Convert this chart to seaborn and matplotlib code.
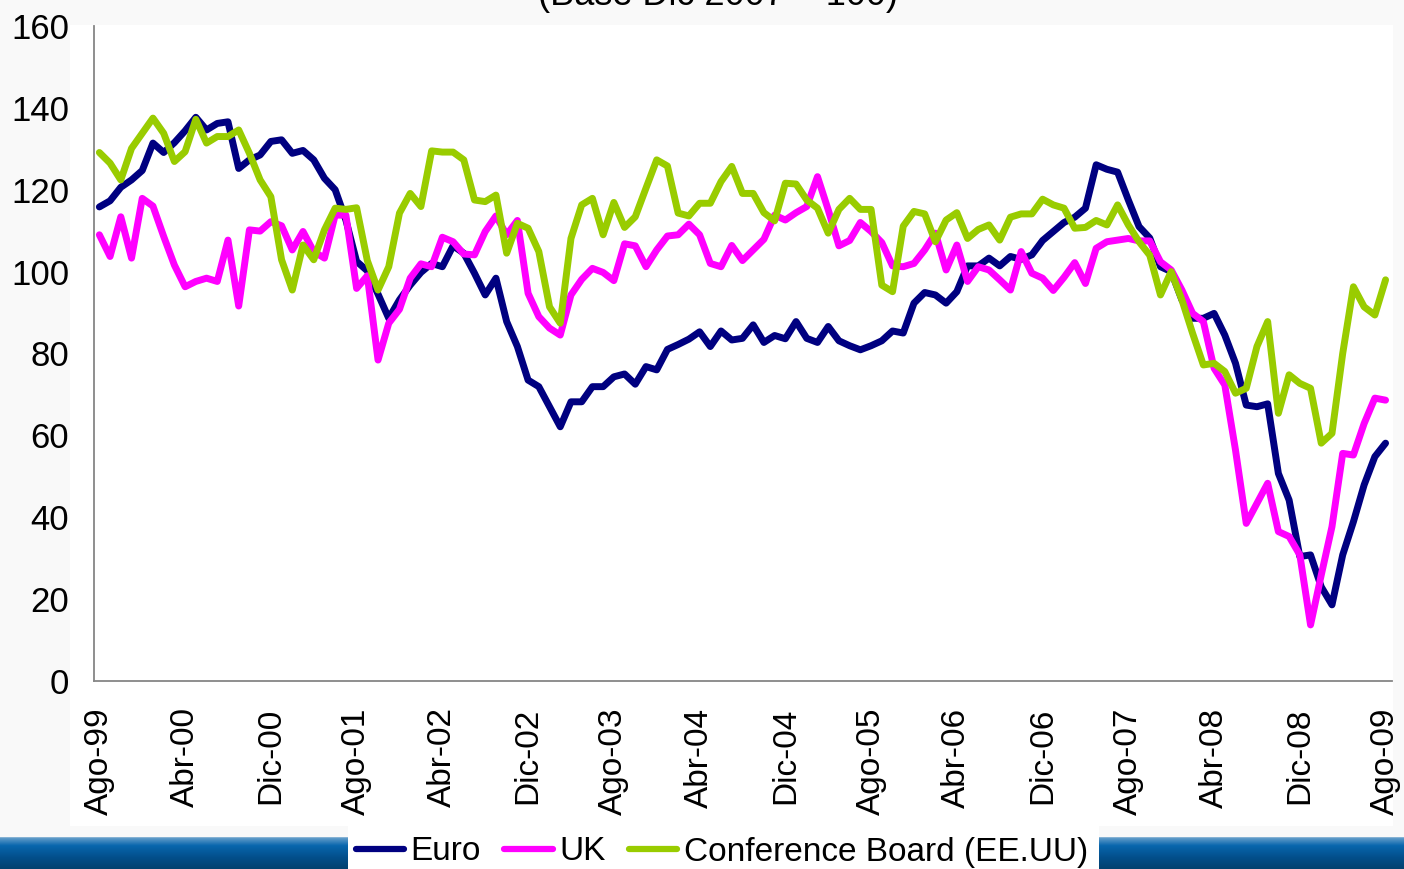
import matplotlib

matplotlib.use("Agg")
import matplotlib.pyplot as plt
import numpy as np
import pandas as pd
import seaborn as sns
from matplotlib.colors import LinearSegmentedColormap
from matplotlib.lines import Line2D
from matplotlib.patches import Rectangle

# monthly index values, Ago-99 .. Ago-09 (Base Dic 2007 = 100)
euro = [
    115.8, 117.3, 120.6, 122.4, 124.7, 131.4, 129.1, 131.5, 134.4, 137.7,
    134.6, 136.2, 136.6, 125.2, 127.3, 128.5, 131.8, 132.2, 128.9, 129.6,
    127.3, 122.8, 120.0, 112.6, 102.5, 100.2, 94.5, 88.6, 93.1, 96.7,
    99.8, 102.0, 101.2, 106.3, 104.5, 99.6, 94.3, 98.4, 87.8, 81.7,
    73.5, 71.9, 67.0, 62.1, 68.2, 68.2, 71.9, 71.9, 74.3, 75.0,
    72.5, 76.8, 76.0, 81.0, 82.2, 83.5, 85.3, 81.7, 85.5, 83.3,
    83.7, 87.0, 82.7, 84.4, 83.6, 87.8, 83.7, 82.7, 86.6, 83.1,
    81.9, 80.9, 81.9, 83.1, 85.5, 85.0, 92.3, 94.9, 94.3, 92.3,
    95.1, 101.4, 101.4, 103.3, 101.4, 103.7, 103.0, 104.1, 107.6, 109.8,
    112.0, 113.3, 115.5, 126.1, 125.0, 124.3, 117.5, 111.0, 108.2, 101.2,
    100.0, 93.1, 88.6, 88.6, 89.8, 84.5, 77.6, 67.4, 67.0, 67.7,
    50.7, 44.2, 30.4, 30.8, 23.0, 18.6, 30.8, 38.9, 47.9, 54.8,
    58.1,
]
uk = [
    109.0, 103.7, 113.4, 103.3, 117.9, 116.0, 108.6, 101.6, 96.3, 97.6,
    98.4, 97.6, 107.7, 91.6, 110.2, 109.9, 112.2, 111.2, 105.3, 109.8,
    104.9, 103.3, 113.8, 113.8, 95.9, 99.0, 78.4, 87.4, 90.8, 98.4,
    101.9, 101.2, 108.4, 107.3, 104.3, 104.1, 109.8, 113.6, 109.0, 112.5,
    94.7, 89.0, 86.2, 84.5, 94.3, 98.1, 100.8, 99.8, 97.8, 106.8,
    106.3, 101.2, 105.3, 108.7, 109.0, 111.6, 109.0, 102.0, 101.2, 106.4,
    102.7, 105.3, 107.9, 113.8, 112.6, 114.4, 115.9, 123.2, 115.1, 106.3,
    107.6, 112.0, 109.8, 107.1, 101.4, 101.2, 102.0, 105.3, 109.4, 100.4,
    106.5, 97.6, 101.2, 100.4, 98.0, 95.5, 104.9, 99.6, 98.4, 95.4,
    98.6, 102.2, 97.1, 105.7, 107.3, 107.7, 108.1, 107.5, 107.5, 102.4,
    100.4, 95.5, 89.8, 87.8, 76.4, 72.3, 56.4, 38.5, 43.4, 48.3,
    36.5, 35.3, 30.8, 13.7, 25.9, 37.7, 55.6, 55.2, 62.9, 69.1,
    68.6,
]
conference_board = [
    129.1, 126.5, 122.4, 130.1, 133.8, 137.5, 133.8, 126.9, 129.3, 137.2,
    131.4, 133.0, 133.0, 134.6, 128.9, 122.4, 118.3, 102.9, 95.5, 106.5,
    102.9, 110.2, 115.5, 115.2, 115.6, 102.7, 95.5, 101.2, 114.3, 119.1,
    115.9, 129.5, 129.2, 129.2, 127.3, 117.5, 117.1, 118.7, 104.5, 111.8,
    110.6, 104.9, 91.4, 87.4, 108.1, 116.3, 117.9, 109.0, 116.9, 110.8,
    113.4, 120.4, 127.3, 125.8, 114.3, 113.6, 116.7, 116.7, 122.0, 125.7,
    119.1, 119.1, 114.4, 112.4, 121.6, 121.4, 117.5, 115.5, 109.4, 115.2,
    117.9, 115.2, 115.2, 96.7, 95.1, 111.1, 114.7, 114.1, 107.3, 112.6,
    114.4, 108.1, 110.3, 111.4, 107.7, 113.3, 114.1, 114.1, 117.7, 116.3,
    115.5, 110.6, 110.8, 112.5, 111.4, 116.3, 111.4, 107.3, 104.0, 94.3,
    100.0, 93.1, 84.9, 77.2, 77.6, 75.6, 70.3, 71.5, 81.7, 87.8,
    65.4, 74.8, 72.7, 71.5, 58.1, 60.5, 80.0, 96.3, 91.4, 89.4,
    98.0,
]
tick_labels = [
    "Ago-99", "Abr-00", "Dic-00", "Ago-01", "Abr-02", "Dic-02", "Ago-03", "Abr-04",
    "Dic-04", "Ago-05", "Abr-06", "Dic-06", "Ago-07", "Abr-08", "Dic-08", "Ago-09",
]
series_names = ["Euro", "UK", "Conference Board (EE.UU)"]
series_colors = ["#000080", "#FF00FF", "#99CC00"]
title = "(Base Dic 2007 = 100)"

W, H = 1404, 869


def px_rect(x0, y0, x1, y1):
    """pixel box (top-left origin) -> figure-fraction [left, bottom, width, height]"""
    return [x0 / W, 1 - y1 / H, (x1 - x0) / W, (y1 - y0) / H]


sns.set_style("white")
plt.rcParams["font.family"] = ["Liberation Sans", "DejaVu Sans"]
plt.rcParams.update({"text.color": "black", "xtick.color": "black", "ytick.color": "black"})

months = np.arange(len(euro))
df = pd.DataFrame(
    {
        "mes": np.tile(months, 3),
        "indice": euro + uk + conference_board,
        "serie": np.repeat(series_names, len(months)),
    }
)

fig = plt.figure(figsize=(W / 100, H / 100), dpi=100, facecolor="#f9f9f9")

# white chart area behind everything else
l, b, w, h = px_rect(70, 25, 1393, 826)
fig.patches.append(
    Rectangle((l, b), w, h, transform=fig.transFigure, facecolor="white", edgecolor="none", zorder=-10)
)

ax = fig.add_axes(px_rect(94, 26, 1392, 681))
ax.set_facecolor("none")
sns.lineplot(
    data=df, x="mes", y="indice", hue="serie", hue_order=series_names,
    palette=series_colors, linewidth=5, estimator=None, sort=False, legend=False, ax=ax,
)
for line in ax.lines:
    line.set_solid_joinstyle("round")
    line.set_solid_capstyle("round")

ax.set_xlim(-0.5, 120.6)
ax.set_ylim(0, 160)
ax.set_yticks(np.arange(0, 161, 20))
ax.set_xlabel("")
ax.set_ylabel("")
for side in ("top", "right"):
    ax.spines[side].set_visible(False)
for side in ("left", "bottom"):
    ax.spines[side].set_color("#868686")
    ax.spines[side].set_linewidth(1.3)

ax.tick_params(axis="y", direction="out", length=6, width=1.3, color="#868686",
               labelsize=25, labelcolor="black", pad=12)
# tick marks sit on category boundaries, labels on the months
tick_pos = np.arange(0, len(euro), 8)
ax.set_xticks(tick_pos - 0.5)
ax.set_xticklabels([])
ax.tick_params(axis="x", which="major", direction="out", length=6, width=1.3, color="#868686")
ax.set_xticks(tick_pos, minor=True)
ax.set_xticklabels(tick_labels, minor=True, rotation=90, fontsize=24, color="black")
ax.tick_params(axis="x", which="minor", length=0, pad=19)

fig.text(718 / W, 1 - 5 / H, title, ha="center", va="baseline", fontsize=26)

# blue footer band with gradient
band = fig.add_axes(px_rect(0, 837, W, H))
band_cmap = LinearSegmentedColormap.from_list("band", ["#8fb8d8", "#0866ad", "#034f8c", "#02416f"])
grad = np.concatenate([[0.0], np.linspace(0.12, 1.0, 40)]).reshape(-1, 1)
band.imshow(grad, aspect="auto", cmap=band_cmap, extent=[0, 1, 0, 1])
band.set_axis_off()

# white legend box on the band
l, b, w, h = px_rect(348, 825, 1099, H)
fig.patches.append(
    Rectangle((l, b), w, h, transform=fig.transFigure, facecolor="white", edgecolor="none", zorder=5)
)

handles = [Line2D([0], [0], color=c, linewidth=4.5, solid_capstyle="round") for c in series_colors]
leg = fig.legend(
    handles, series_names, loc="center", bbox_to_anchor=(722 / W, 1 - 852 / H), ncol=3,
    frameon=False, fontsize=24, handlelength=1.45, handletextpad=0.2, columnspacing=0.7,
    borderpad=0, borderaxespad=0,
)
leg.set_zorder(6)

fig.savefig("out.png", dpi=100, facecolor=fig.get_facecolor())
